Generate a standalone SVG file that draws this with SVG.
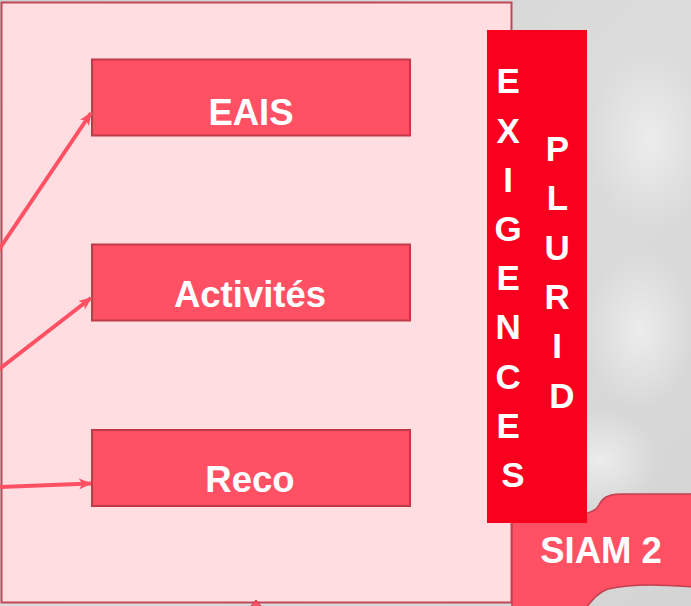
<svg xmlns="http://www.w3.org/2000/svg" width="691" height="606" viewBox="0 0 691 606">
<defs>
<linearGradient id="bg" x1="0" y1="0" x2="1" y2="1">
<stop offset="0" stop-color="#cdcdcd"/>
<stop offset="0.5" stop-color="#dcdcdc"/>
<stop offset="1" stop-color="#d4d4d4"/>
</linearGradient>
<radialGradient id="spot" cx="0.5" cy="0.5" r="0.5">
<stop offset="0" stop-color="#ececec"/>
<stop offset="1" stop-color="#ececec" stop-opacity="0"/>
</radialGradient>
<marker id="ah" viewBox="0 0 12 10" refX="11" refY="5" markerWidth="13" markerHeight="11" markerUnits="userSpaceOnUse" orient="auto">
<path d="M0,0 L12,5 L0,10 L3,5 Z" fill="#ff5064"/>
</marker>
</defs>
<style>
.box{fill:#ff5064;stroke:#c03a4a;stroke-width:2}
.lbl{font-family:"Liberation Sans",Arial,sans-serif;font-weight:bold;font-size:36.5px;fill:#ffffff;text-anchor:middle}
.vert{font-family:"Liberation Sans",Arial,sans-serif;font-weight:bold;font-size:35px;fill:#ffffff;text-anchor:middle}
.con{stroke:#ff5064;stroke-width:4;fill:none;marker-end:url(#ah)}
</style>
<rect x="0" y="0" width="691" height="606" fill="url(#bg)"/>
<ellipse cx="650" cy="140" rx="60" ry="90" fill="url(#spot)"/>
<ellipse cx="640" cy="330" rx="55" ry="80" fill="url(#spot)"/>
<ellipse cx="600" cy="460" rx="60" ry="50" fill="url(#spot)"/>

<g id="panel">
<rect x="1.5" y="2.5" width="510" height="600" fill="#ffdde0" stroke="#c04858" stroke-width="2"/>
</g>

<g id="siam2">
<path d="M512,520 L512,612 L582,612 C590,604 596,593 608,589 C635,583 665,585 693,587 L693,494 L622,494 C606,494 602,499 599,505 C595,512 588,514 578,514 L512,514 Z" fill="#ff5064" stroke="#c04050" stroke-width="1.5"/>
<text class="lbl" x="601" y="563">SIAM 2</text>
</g>

<g id="exigences">
<rect x="487" y="30" width="100" height="493" fill="#f8001e"/>
<text class="vert">
<tspan x="513" y="93">E</tspan>
<tspan x="513" y="143">X</tspan>
<tspan x="513" y="192">I</tspan>
<tspan x="513" y="241">G</tspan>
<tspan x="513" y="290">E</tspan>
<tspan x="513" y="339">N</tspan>
<tspan x="513" y="389">C</tspan>
<tspan x="513" y="438">E</tspan>
<tspan x="513" y="487">S</tspan>
</text>
<text class="vert">
<tspan x="562" y="161">P</tspan>
<tspan x="562" y="210">L</tspan>
<tspan x="562" y="260">U</tspan>
<tspan x="562" y="309">R</tspan>
<tspan x="562" y="358">I</tspan>
<tspan x="562" y="408">D</tspan>
</text>
</g>

<g id="eais">
<rect class="box" x="92" y="59.5" width="318" height="76"/>
<text class="lbl" x="251" y="125">EAIS</text>
</g>
<g id="activites">
<rect class="box" x="92" y="244.5" width="318" height="76"/>
<text class="lbl" x="250" y="307">Activités</text>
</g>
<g id="reco">
<rect class="box" x="92" y="430" width="318" height="76"/>
<text class="lbl" x="250" y="492">Reco</text>
</g>

<g id="connectors">
<line class="con" x1="-2" y1="251" x2="91" y2="113"/>
<line class="con" x1="-2" y1="370" x2="91" y2="298"/>
<line class="con" x1="-2" y1="487" x2="91" y2="483.5"/>
<path d="M250,607 L256,600 L262,607 Z" fill="#ff5064" stroke="#c04050" stroke-width="1"/>
</g>
</svg>
